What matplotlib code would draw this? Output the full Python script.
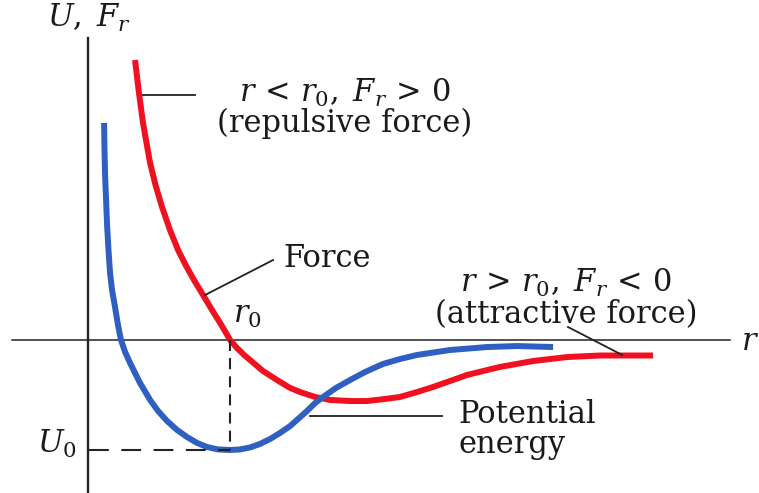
import numpy as np
import matplotlib
matplotlib.use("Agg")
import matplotlib.pyplot as plt

plt.rcParams['font.family'] = ['DejaVu Serif']
plt.rcParams['mathtext.fontset'] = 'dejavuserif'

# separation r in units of r0, energy / force in units of |U0|
r_pot = [0.113, 0.116, 0.120, 0.127, 0.134, 0.144, 0.155, 0.169, 0.190, 0.211,
         0.232, 0.261, 0.296, 0.366, 0.437, 0.493, 0.556, 0.627, 0.697, 0.768,
         0.838, 0.915, 1.000, 1.070, 1.141, 1.211, 1.282, 1.352, 1.423, 1.479,
         1.542, 1.599, 1.655, 1.746, 1.845, 1.951, 2.077, 2.197, 2.317, 2.549,
         2.810, 3.021, 3.275]
U_pot = [1.973, 1.727, 1.500, 1.273, 1.045, 0.818, 0.609, 0.455, 0.300, 0.136,
         0.000, -0.109, -0.209, -0.391, -0.545, -0.645, -0.736, -0.818, -0.882,
         -0.936, -0.973, -0.995, -1.000, -0.995, -0.977, -0.945, -0.900, -0.845,
         -0.782, -0.718, -0.645, -0.573, -0.518, -0.436, -0.364, -0.291, -0.218,
         -0.173, -0.136, -0.091, -0.064, -0.055, -0.064]

r_force = [0.331, 0.356, 0.384, 0.408, 0.437, 0.475, 0.521, 0.577, 0.634, 0.687,
           0.746, 0.810, 0.873, 0.926, 0.968, 1.000, 1.049, 1.099, 1.141, 1.232,
           1.331, 1.423, 1.493, 1.599, 1.704, 1.845, 1.965, 2.092, 2.197, 2.317,
           2.430, 2.549, 2.669, 2.782, 2.901, 3.134, 3.373, 3.606, 3.979]
F_force = [2.545, 2.273, 2.000, 1.818, 1.609, 1.409, 1.209, 1.000, 0.818, 0.682,
           0.545, 0.409, 0.273, 0.164, 0.073, 0.000, -0.073, -0.136, -0.182,
           -0.282, -0.364, -0.436, -0.473, -0.518, -0.545, -0.555, -0.555, -0.536,
           -0.518, -0.473, -0.427, -0.373, -0.318, -0.282, -0.245, -0.191, -0.155,
           -0.141, -0.141]

r0 = 1.0
U0 = -1.0

fig = plt.figure(figsize=(7.59, 4.93), dpi=100)
ax = fig.add_axes([0, 0, 1, 1])
ax.set_xlim(-0.62, 4.725)
ax.set_ylim(-1.391, 3.091)
ax.axis('off')

# axes
ax.plot([0, 0], [-1.4, 2.745], color='#222222', lw=1.7)
ax.plot([-0.535, 4.52], [0, 0], color='#222222', lw=1.1)

# curves
ax.plot(r_force, F_force, color='#f01020', lw=4.3, solid_capstyle='butt')
ax.plot(r_pot, U_pot, color='#2f5fc0', lw=4.3, solid_capstyle='butt')

# r0 and U0 guides
ax.plot([r0, r0], [0, U0], color='#222222', lw=1.5, ls=(0, (5.3, 3.4)))
ax.plot([0.01, r0], [U0, U0], color='#222222', lw=1.5, ls=(0, (9.5, 6)))

# leader lines
lc = '#222222'
ax.plot([0.387, 0.754], [2.227, 2.227], color=lc, lw=1.3)
ax.plot([0.824, 1.303], [0.409, 0.727], color=lc, lw=1.3)
ax.plot([3.380, 3.761], [0.118, -0.136], color=lc, lw=1.3)
ax.plot([1.563, 2.493], [-0.691, -0.691], color=lc, lw=1.3)

fs = 22
tc = '#1a1a1a'
ax.text(-0.289, 2.845, r'$U,\;F_r$', fontsize=fs, color=tc, va='baseline')
ax.text(1.81, 2.164, r'$r\,<\,r_0,\;F_r\,>\,0$', fontsize=fs, color=tc,
        ha='center', va='baseline')
ax.text(1.81, 1.891, '(repulsive force)', fontsize=fs, color=tc,
        ha='center', va='baseline')
ax.text(1.373, 0.664, 'Force', fontsize=fs, color=tc, va='baseline')
ax.text(1.021, 0.155, r'$r_0$', fontsize=fs, color=tc, va='baseline')
ax.text(3.366, 0.436, r'$r\,>\,r_0,\;F_r\,<\,0$', fontsize=fs, color=tc,
        ha='center', va='baseline')
ax.text(3.366, 0.155, '(attractive force)', fontsize=fs, color=tc,
        ha='center', va='baseline')
ax.text(2.606, -0.755, 'Potential', fontsize=fs, color=tc, va='baseline')
ax.text(2.606, -1.027, 'energy', fontsize=fs, color=tc, va='baseline')
ax.text(-0.077, -1.027, r'$U_0$', fontsize=fs, color=tc, ha='right',
        va='baseline')
ax.text(4.599, -0.09, r'$r$', fontsize=fs, color=tc, va='baseline')

fig.savefig('out.png', dpi=100)
